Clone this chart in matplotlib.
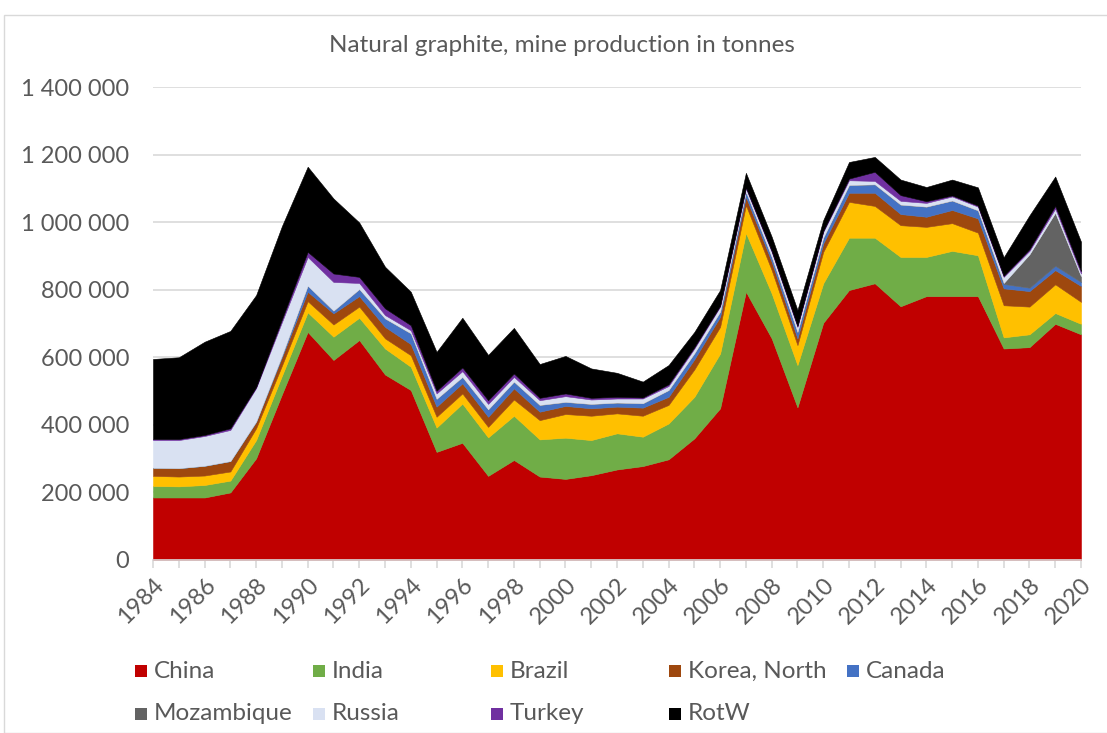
import matplotlib
matplotlib.use("Agg")
import matplotlib.pyplot as plt
from matplotlib.patches import Rectangle
import numpy as np

years = list(range(1984, 2021))

china = [185, 185, 185, 200, 301, 490, 675, 592, 651, 549, 503, 320, 347, 249, 296, 247, 240, 251, 268, 278,
         298, 360, 449, 794, 656, 452, 702, 799, 819, 751, 781, 781, 781, 626, 630, 699, 668]
india = [34, 33, 37, 35, 54, 55, 58, 69, 66, 77, 69, 72, 116, 114, 131, 110, 122, 104, 107, 87,
         106, 123, 162, 174, 133, 125, 117, 155, 135, 146, 116, 134, 121, 33, 38, 32, 31]
brazil = [30, 29, 28, 27, 35, 30, 33, 36, 33, 30, 34, 32, 30, 31, 48, 57, 70, 72, 59, 62,
          55, 81, 79, 82, 69, 59, 93, 106, 94, 94, 89, 82, 67, 95, 82, 85, 65]
korea_north = [24, 25, 29, 31, 19, 25, 28, 33, 31, 34, 33, 30, 30, 30, 33, 25, 24, 22, 20, 24,
               24, 30, 30, 25, 25, 20, 25, 27, 39, 33, 30, 39, 42, 50, 46, 42, 47]
canada = [0, 0, 0, 0, 1, 5, 18, 8, 21, 25, 32, 23, 19, 22, 20, 20, 12, 13, 12, 13,
          20, 18, 15, 15, 14, 19, 17, 23, 25, 28, 30, 28, 24, 13, 10, 13, 12]
mozambique = [0] * 33 + [3, 99, 157, 17]
russia = [82, 83, 88, 92, 99, 99, 85, 85, 18, 10, 9, 16, 17, 16, 14, 14, 17, 13, 12, 14,
          12, 14, 15, 10, 15, 15, 17, 14, 10, 11, 11, 12, 11, 18, 10, 12, 8]
turkey = [3, 3, 3, 5, 3, 8, 15, 25, 18, 20, 15, 8, 11, 11, 10, 7, 8, 5, 5, 3,
          5, 4, 3, 3, 3, 3, 3, 5, 27, 17, 5, 3, 3, 3, 5, 8, 7]
rotw = [237, 242, 276, 288, 272, 276, 252, 222, 161, 123, 99, 115, 147, 134, 135, 100, 111, 87, 71, 47,
        57, 45, 46, 43, 42, 47, 32, 49, 44, 46, 42, 47, 54, 55, 100, 87, 87]

names = ["China", "India", "Brazil", "Korea, North", "Canada",
         "Mozambique", "Russia", "Turkey", "RotW"]
series = [china, india, brazil, korea_north, canada, mozambique, russia, turkey, rotw]
colors = ["#C00000", "#70AD47", "#FFC000", "#9E480E", "#4472C4",
          "#636363", "#D9E1F2", "#7030A0", "#000000"]

title = "Natural graphite, mine production in tonnes"
yticks = [0, 200000, 400000, 600000, 800000, 1000000, 1200000, 1400000]
ytick_labels = ["0", "200 000", "400 000", "600 000", "800 000", "1 000 000", "1 200 000", "1 400 000"]

plt.rcParams['font.family'] = ['Lato', 'DejaVu Sans']

W, H = 1107, 733
fig = plt.figure(figsize=(W / 100, H / 100), dpi=100)
fig.patch.set_facecolor("white")

# outer chart border
fig.patches.append(Rectangle((4 / W, 0), 1.2, (733 - 15) / H, transform=fig.transFigure,
                             fill=False, edgecolor="#D9D9D9", linewidth=1.0))

ax = fig.add_axes([153 / W, (H - 560) / H, 928 / W, (560 - 87) / H])
vals = [np.array(s, dtype=float) * 1000 for s in series]
polys = ax.stackplot(years, *vals, colors=colors, linewidth=0.4)
for p, c in zip(polys, colors):
    p.set_edgecolor(c)

ax.set_xlim(1984, 2020)
ax.set_ylim(0, 1400000)
ax.set_yticks(yticks)
ax.set_yticklabels(ytick_labels)
ax.set_xticks(list(range(1984, 2021, 2)))
ax.set_xticklabels([str(y) for y in range(1984, 2021, 2)], rotation=45,
                   ha="right", va="top", rotation_mode="anchor")
ax.set_xticks(years, minor=True)

ax.grid(axis="y", color="#D9D9D9", linewidth=1.2)
ax.set_axisbelow(True)
for s in ["top", "right", "left"]:
    ax.spines[s].set_visible(False)
ax.spines["bottom"].set_color("#D9D9D9")
ax.spines["bottom"].set_linewidth(1.2)

ax.tick_params(axis="y", length=0, pad=17, labelsize=17, labelcolor="#595959")
ax.tick_params(axis="x", which="both", length=6, color="#D9D9D9", width=1.2,
               labelsize=17, labelcolor="#595959", pad=4)

fig.text(562 / W, 1 - 45 / H, title, ha="center", va="center", fontsize=17.5, color="#595959")

# legend drawn manually with uniform column spacing
for i, (name, col) in enumerate(zip(names, colors)):
    c, r = i % 5, i // 5
    x = 135 + c * 178
    y = 671 + r * 43
    fig.patches.append(Rectangle((x / W, 1 - (y + 6) / H), 12 / W, 12 / H,
                                 transform=fig.transFigure, facecolor=col, edgecolor="none"))
    fig.text((x + 19) / W, 1 - y / H, name, ha="left", va="center", fontsize=17.5, color="#595959")

fig.savefig("out.png", dpi=100, facecolor="white")
